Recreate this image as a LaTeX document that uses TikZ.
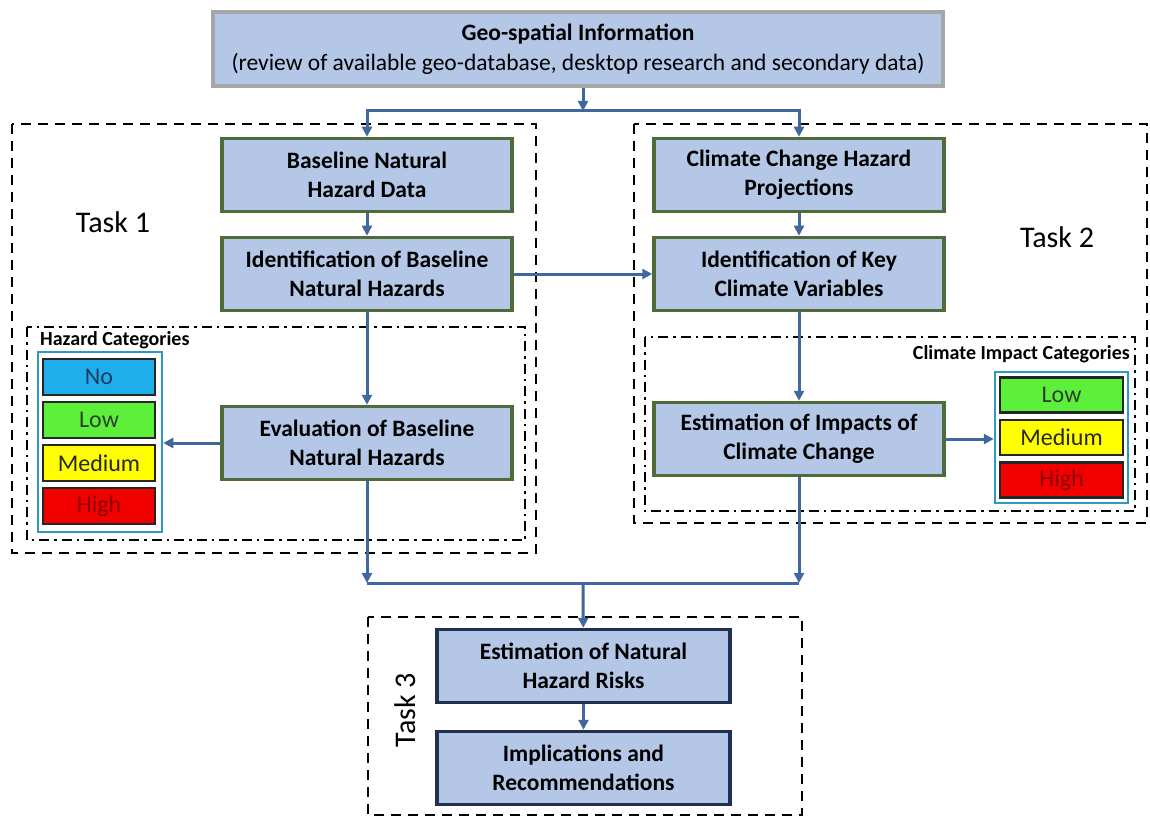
\documentclass[tikz,border=0pt]{standalone}
\usepackage{fontspec}
\setmainfont{Carlito}
\usetikzlibrary{arrows.meta}
\definecolor{boxfill}{HTML}{B4C7E7}
\definecolor{boxgreen}{HTML}{4F6B3A}
\definecolor{boxnavy}{HTML}{1F3050}
\definecolor{topgray}{HTML}{A6A6A6}
\definecolor{arrowblue}{HTML}{41679F}
\definecolor{legframe}{HTML}{2E9AC4}
\definecolor{lgno}{HTML}{1EAEEC}
\definecolor{lglow}{HTML}{5CF03A}
\definecolor{lgmed}{HTML}{FFFF00}
\definecolor{lghigh}{HTML}{F20000}
\definecolor{txno}{HTML}{1F3864}
\definecolor{txlow}{HTML}{2B3F2B}
\definecolor{txhigh}{HTML}{8A0000}
\begin{document}
\begin{tikzpicture}[x=1pt,y=-1pt,
  box/.style={draw=boxgreen, line width=3.5pt, fill=boxfill, minimum width=290pt, minimum height=73pt, align=center, inner sep=0pt, font=\bfseries\fontsize{23.5}{29}\selectfont},
  navybox/.style={box, draw=boxnavy, minimum width=293pt},
  topbox/.style={box, draw=topgray, minimum width=730pt, minimum height=74pt, font=\fontsize{23.5}{30}\selectfont},
  legbox/.style={draw=black!85, line width=2.5pt, minimum width=112pt, minimum height=36pt, inner sep=0pt, font=\fontsize{24}{26}\selectfont},
  legframestyle/.style={draw=legframe, line width=2.5pt, inner sep=0pt},
  arr/.style={draw=arrowblue, line width=3pt, -{Triangle[width=10pt,length=10pt]}},
  plain/.style={draw=arrowblue, line width=3pt},
  taskdash/.style={draw=black, line width=2.5pt, dash pattern=on 10pt off 7pt},
  catdash/.style={draw=black, line width=2.5pt, dash pattern=on 10pt off 5pt on 2.5pt off 5pt},
  tasklabel/.style={font=\fontsize{30}{34}\selectfont, inner sep=0pt},
  catlabel/.style={font=\bfseries\fontsize{20}{22}\selectfont, inner sep=0pt}
]
\useasboundingbox (0,0) rectangle (1150,818);

% task containers
\draw[taskdash] (12,124) rectangle (536,553);
\draw[taskdash] (634,124) rectangle (1147,523);
\draw[taskdash] (368,617) rectangle (802,815);
\draw[catdash] (27,327) rectangle (525,540);
\draw[catdash] (645,337) rectangle (1135,511);

% labels
\node[tasklabel] (t1) at (113,222) {Task 1};
\node[tasklabel] (t2) at (1057,237) {Task 2};
\node[tasklabel, rotate=90] (t3) at (405,710) {Task 3};
\node[catlabel, anchor=west] (hc) at (40,340) {Hazard Categories};
\node[catlabel, anchor=east] (cc) at (1130,354) {Climate Impact Categories};

% main boxes
\node[topbox] (top) at (578,49) {\textbf{Geo-spatial Information}\\(review of available geo-database, desktop research and secondary data)};
\node[box] (bhd) at (367,175) {Baseline Natural\\Hazard Data};
\node[box] (cchp) at (799,175) {Climate Change Hazard\\Projections};
\node[box] (ibnh) at (367,274) {Identification of Baseline\\Natural Hazards};
\node[box] (ikcv) at (799,274) {Identification of Key\\Climate Variables};
\node[box] (ebnh) at (367,443) {Evaluation of Baseline\\Natural Hazards};
\node[box] (eicc) at (799,439) {Estimation of Impacts of\\Climate Change};
\node[navybox] (enhr) at (583.5,666) {Estimation of Natural\\Hazard Risks};
\node[navybox] (iar) at (583.5,768) {Implications and\\Recommendations};

% hazard legend
\node[legframestyle, minimum width=124pt, minimum height=180pt] (hleg) at (100,442) {};
\node[legbox, fill=lgno, text=txno] (hno) at (99,377) {No};
\node[legbox, fill=lglow, text=txlow] (hlow) at (99,420) {Low};
\node[legbox, fill=lgmed, text=black!85] (hmed) at (99,463) {Medium};
\node[legbox, fill=lghigh, text=txhigh] (hhigh) at (99,506) {High};

% climate legend
\node[legframestyle, minimum width=133pt, minimum height=131pt] (cleg) at (1061.5,437.5) {};
\node[legbox, minimum width=123pt, minimum height=35pt, fill=lglow, text=txlow] (clow) at (1061.5,395) {Low};
\node[legbox, minimum width=123pt, minimum height=35pt, fill=lgmed, text=black!85] (cmed) at (1061.5,437.5) {Medium};
\node[legbox, minimum width=123pt, minimum height=35pt, fill=lghigh, text=txhigh] (chigh) at (1061.5,480) {High};

% connectors
\coordinate (j1) at (583,111);
\draw[arr] (top.south -| j1) -- (j1);
\draw[arr] (j1) -| (bhd);
\draw[arr] (j1) -| (cchp);
\draw[arr] (bhd) -- (ibnh);
\draw[arr] (cchp) -- (ikcv);
\draw[arr] (ibnh) -- (ikcv);
\draw[arr] (ibnh) -- (ebnh);
\draw[arr] (ikcv) -- (eicc);
\draw[arr] (ebnh.west) -- (ebnh.west -| hleg.east);
\draw[arr] (eicc.east) -- (eicc.east -| cleg.west);
\coordinate (j2) at (583,583);
\draw[arr] (ebnh.south) -- (ebnh.south |- j2);
\draw[arr] (eicc.south) -- (eicc.south |- j2);
\draw[plain] (ebnh.south |- j2) -- (eicc.south |- j2);
\draw[arr] (j2) -- (enhr);
\draw[arr] (enhr) -- (iar);
\end{tikzpicture}
\end{document}
